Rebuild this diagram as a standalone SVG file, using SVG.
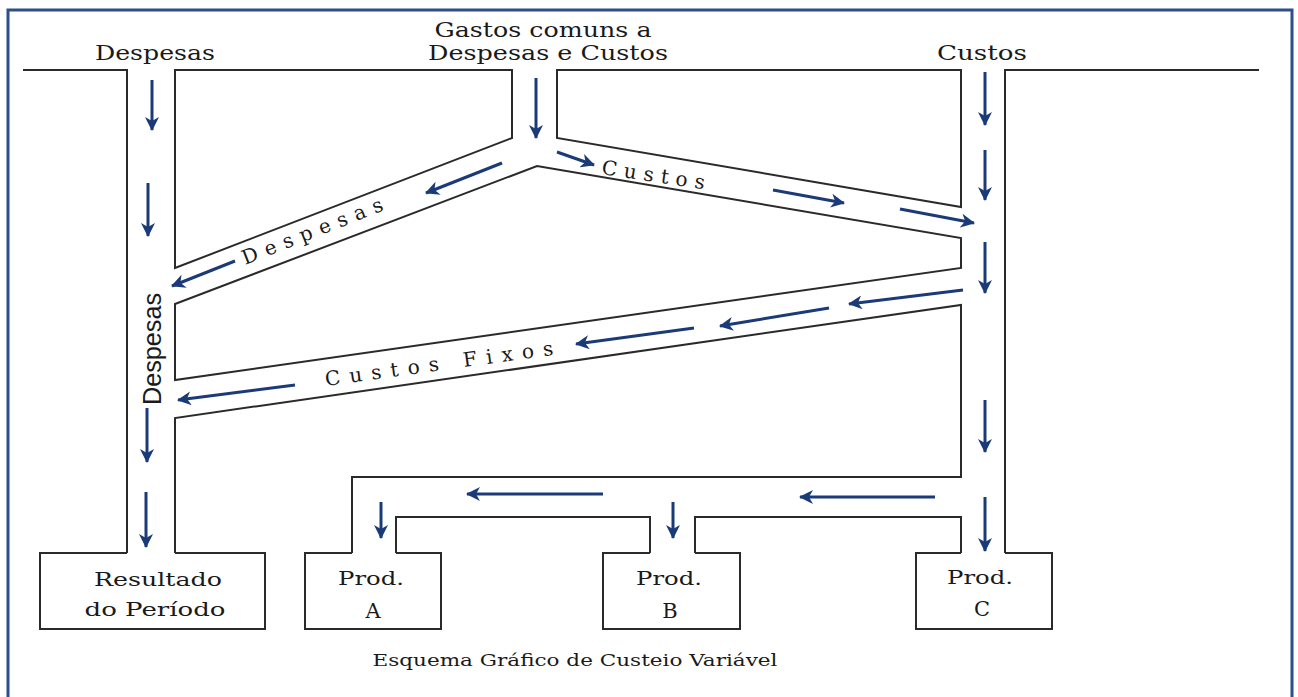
<svg xmlns="http://www.w3.org/2000/svg" width="1298" height="697" viewBox="0 0 1298 697">
  <defs>
    <marker id="head" viewBox="0 0 14 14" markerWidth="14" markerHeight="14" refX="13" refY="7" orient="auto" markerUnits="userSpaceOnUse">
      <path d="M0,0 L14,7 L0,14 L4,7 z" fill="#1b3a78"/>
    </marker>
  </defs>
  <style>
    .frame { fill: none; stroke: #2d4f8a; stroke-width: 3; }
    .wall { fill: none; stroke: #2a2a2a; stroke-width: 2; stroke-linejoin: miter; }
    .box { fill: #ffffff; stroke: #2a2a2a; stroke-width: 2; }
    .flow { stroke: #1b3a78; stroke-width: 3; fill: none; marker-end: url(#head); }
    .t { font-family: "DejaVu Serif", "Liberation Serif", serif; fill: #1a1a1a; }
    .sans { font-family: "Liberation Sans", Arial, sans-serif; fill: #1a1a1a; }
  </style>

  <rect width="1298" height="697" fill="#ffffff"/>
  <rect class="frame" x="8" y="10" width="1284" height="700"/>

  <!-- channel walls -->
  <g id="walls">
    <path class="wall" d="M23,70 H127 V553"/>
    <path class="wall" d="M175,70 H512 V138 L175,268 Z"/>
    <path class="wall" d="M557,70 H961 V207 L557,138 Z"/>
    <path class="wall" d="M175,304 L537,166 L961,238 V268 L175,380 Z"/>
    <path class="wall" d="M175,553 V418 L961,305 V477 H352 V553"/>
    <path class="wall" d="M396,553 V517 H650 V553"/>
    <path class="wall" d="M695,553 V517 H961 V553"/>
    <path class="wall" d="M1259,70 H1005 V553"/>
  </g>

  <!-- source headings -->
  <g id="head-despesas">
    <text class="t" x="155" y="60" font-size="20" text-anchor="middle" textLength="120" lengthAdjust="spacingAndGlyphs">Despesas</text>
  </g>
  <g id="head-comuns">
    <text class="t" x="543" y="37" font-size="20" text-anchor="middle" textLength="217" lengthAdjust="spacingAndGlyphs">Gastos comuns a</text>
    <text class="t" x="548" y="60" font-size="20" text-anchor="middle" textLength="240" lengthAdjust="spacingAndGlyphs">Despesas e Custos</text>
  </g>
  <g id="head-custos">
    <text class="t" x="982" y="60" font-size="20" text-anchor="middle" textLength="90" lengthAdjust="spacingAndGlyphs">Custos</text>
  </g>

  <!-- branch labels -->
  <g id="labels">
    <text class="t" font-size="20" transform="translate(245,265) rotate(-21.5)" textLength="150" lengthAdjust="spacing">Despesas</text>
    <text class="t" font-size="20" transform="translate(601,174) rotate(8.5)" textLength="104" lengthAdjust="spacing">Custos</text>
    <text class="t" font-size="20" transform="translate(326,386) rotate(-7.8)" textLength="230" lengthAdjust="spacing">Custos   Fixos</text>
    <text class="sans" font-size="25" transform="translate(161,405) rotate(-90)" textLength="112" lengthAdjust="spacingAndGlyphs">Despesas</text>
  </g>

  <!-- destination boxes -->
  <g id="resultado">
    <path class="box" d="M127,553 H40 V629 H265 V553 H175"/>
    <text class="t" x="158" y="586" font-size="19" text-anchor="middle" textLength="128" lengthAdjust="spacingAndGlyphs">Resultado</text>
    <text class="t" x="155" y="616" font-size="19" text-anchor="middle" textLength="141" lengthAdjust="spacingAndGlyphs">do  Período</text>
  </g>
  <g id="prod-a">
    <path class="box" d="M352,553 H305 V629 H441 V553 H396"/>
    <text class="t" x="371" y="585" font-size="19" text-anchor="middle" textLength="66" lengthAdjust="spacingAndGlyphs">Prod.</text>
    <text class="t" x="373" y="618" font-size="21" text-anchor="middle">A</text>
  </g>
  <g id="prod-b">
    <path class="box" d="M650,553 H603 V629 H740 V553 H695"/>
    <text class="t" x="669" y="585" font-size="19" text-anchor="middle" textLength="66" lengthAdjust="spacingAndGlyphs">Prod.</text>
    <text class="t" x="670" y="618" font-size="21" text-anchor="middle">B</text>
  </g>
  <g id="prod-c">
    <path class="box" d="M961,553 H916 V629 H1052 V553 H1005"/>
    <text class="t" x="980" y="584" font-size="19" text-anchor="middle" textLength="66" lengthAdjust="spacingAndGlyphs">Prod.</text>
    <text class="t" x="982" y="616" font-size="21" text-anchor="middle">C</text>
  </g>

  <!-- flow arrows -->
  <g id="connectors">
    <line class="flow" x1="152" y1="80" x2="152" y2="130"/>
    <line class="flow" x1="148" y1="183" x2="148" y2="236"/>
    <line class="flow" x1="147" y1="408" x2="147" y2="462"/>
    <line class="flow" x1="146" y1="492" x2="146" y2="547"/>
    <line class="flow" x1="536" y1="78" x2="536" y2="138"/>
    <line class="flow" x1="502" y1="163" x2="426" y2="193"/>
    <line class="flow" x1="235" y1="261" x2="172" y2="286"/>
    <line class="flow" x1="557" y1="152" x2="594" y2="165"/>
    <line class="flow" x1="773" y1="190" x2="844" y2="203"/>
    <line class="flow" x1="900" y1="209" x2="974" y2="223"/>
    <line class="flow" x1="985" y1="72" x2="985" y2="125"/>
    <line class="flow" x1="985" y1="150" x2="985" y2="200"/>
    <line class="flow" x1="985" y1="242" x2="985" y2="293"/>
    <line class="flow" x1="985" y1="400" x2="985" y2="452"/>
    <line class="flow" x1="985" y1="497" x2="985" y2="551"/>
    <line class="flow" x1="963" y1="290" x2="849" y2="304"/>
    <line class="flow" x1="829" y1="308" x2="720" y2="326"/>
    <line class="flow" x1="694" y1="328" x2="576" y2="344"/>
    <line class="flow" x1="295" y1="385" x2="178" y2="400"/>
    <line class="flow" x1="935" y1="497" x2="800" y2="497"/>
    <line class="flow" x1="603" y1="494" x2="467" y2="494"/>
    <line class="flow" x1="381" y1="502" x2="381" y2="538"/>
    <line class="flow" x1="673" y1="502" x2="673" y2="538"/>
  </g>

  <g id="caption">
    <text class="t" x="575" y="666" font-size="17" text-anchor="middle" textLength="405" lengthAdjust="spacingAndGlyphs">Esquema Gráfico de Custeio Variável</text>
  </g>
</svg>
